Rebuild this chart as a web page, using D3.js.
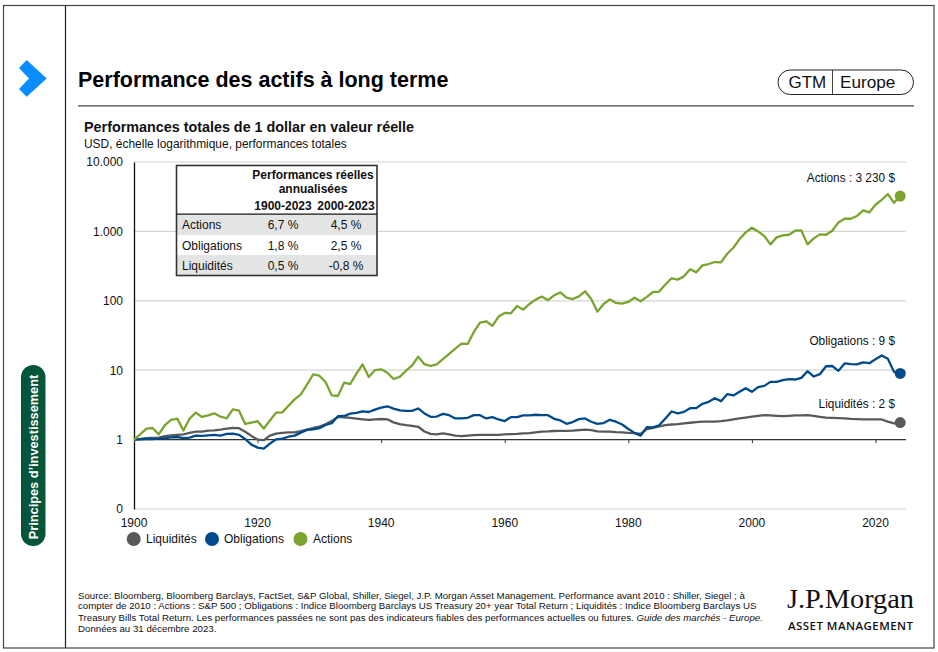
<!DOCTYPE html>
<html lang="fr">
<head>
<meta charset="utf-8">
<title>Performance des actifs à long terme</title>
<script src="https://cdn.jsdelivr.net/npm/d3@7"></script>
<style>
  html, body { margin: 0; padding: 0; background: #fff; }
  svg { display: block; }
  text { font-family: "Liberation Sans", Arial, sans-serif; fill: #111; }
</style>
</head>
<body>
<svg id="chart" width="938" height="652"></svg>
<script>
// Growth of one dollar in real terms, one value per year from 1900 to 2024 (end of 2023).
const startYear = 1900;
const actions = [
  1.00,1.19,1.44,1.47,1.19,1.61,1.92,2.01,1.35,2.01,
  2.45,2.12,2.24,2.39,2.14,2.03,2.73,2.61,1.68,1.76,
  1.84,1.44,1.88,2.45,2.47,3.08,3.80,4.49,6.19,8.71,
  8.33,6.76,4.34,4.25,6.61,6.32,8.90,12.1,7.98,10.05,
  10.3,9.20,7.46,8.02,9.78,11.7,15.7,12.2,11.5,12.1,
  14.4,17.2,20.5,24.2,23.9,35.6,48.5,50.7,43.5,59.2,
  66.8,66.1,84.3,74.6,90.0,104,115,102,120,132,
  111,106,116,137,106,69.8,90.0,105,93.1,91.0,
  96.2,111,98.4,114,134,136,172,211,202,225,
  284,257,324,339,362,358,477,582,776,968,
  1130,1000,857,650,820,875,895,1023,1033,650,
  793,906,895,1023,1347,1521,1521,1663,2004,1875,
  2420,2856,3443,2587,3230
];
const obligations = [
  1.00,1.01,1.02,1.02,1.03,1.05,1.08,1.09,1.05,1.07,
  1.14,1.13,1.15,1.17,1.14,1.21,1.22,1.17,1.02,0.847,
  0.767,0.742,0.876,1.01,1.03,1.10,1.14,1.26,1.38,1.41,
  1.46,1.63,1.72,2.17,2.19,2.37,2.42,2.56,2.50,2.70,
  2.89,3.02,2.79,2.63,2.60,2.60,2.81,2.38,2.13,2.15,
  2.35,2.25,2.02,2.02,2.06,2.25,2.25,2.02,2.11,1.95,
  1.85,2.11,2.11,2.23,2.23,2.28,2.25,2.25,1.99,1.89,
  1.69,1.79,1.97,2.02,1.81,1.69,1.73,1.93,1.81,1.65,
  1.42,1.25,1.14,1.51,1.50,1.61,2.02,2.54,2.38,2.51,
  2.84,2.84,3.28,3.50,3.95,3.58,4.51,4.32,4.88,5.51,
  4.88,5.69,5.95,6.79,6.79,7.18,7.42,7.34,7.76,9.67,
  8.11,8.76,11.4,11.5,9.78,12.5,12.2,12.1,13.0,12.6,
  14.4,16.3,14.6,9.46,9.00
];
const liquidites = [
  1.00,1.02,1.05,1.06,1.07,1.12,1.15,1.17,1.19,1.25,
  1.30,1.30,1.35,1.36,1.39,1.44,1.47,1.46,1.30,1.13,
  1.00,0.98,1.14,1.22,1.25,1.27,1.27,1.32,1.39,1.47,
  1.54,1.66,1.86,2.12,2.10,2.05,2.01,1.96,1.92,1.96,
  1.98,1.96,1.77,1.67,1.62,1.58,1.53,1.31,1.21,1.19,
  1.23,1.19,1.14,1.12,1.14,1.16,1.17,1.17,1.17,1.17,
  1.19,1.20,1.21,1.23,1.24,1.27,1.30,1.31,1.33,1.34,
  1.34,1.35,1.37,1.39,1.37,1.31,1.30,1.30,1.28,1.27,
  1.25,1.24,1.21,1.42,1.48,1.55,1.62,1.65,1.67,1.71,
  1.75,1.79,1.81,1.82,1.82,1.85,1.89,1.95,2.02,2.08,
  2.15,2.20,2.25,2.23,2.20,2.18,2.20,2.23,2.23,2.25,
  2.20,2.13,2.08,2.06,2.04,2.02,1.99,1.97,1.95,1.95,
  1.95,1.95,1.82,1.71,1.76
];

const yTickValues = [0.1, 1, 10, 100, 1000, 10000];
const yTickLabels = ["0", "1", "10", "100", "1.000", "10.000"];
const xTickValues = [1900, 1920, 1940, 1960, 1980, 2000, 2020];

const tableHeader = ["1900-2023", "2000-2023"];
const tableNames = ["Actions", "Obligations", "Liquidités"];
const tableFirst = ["6,7 %", "1,8 %", "0,5 %"];
const tableSecond = ["4,5 %", "2,5 %", "-0,8 %"];

const footnotes = [
  "Source: Bloomberg, Bloomberg Barclays, FactSet, S&P Global, Shiller, Siegel, J.P. Morgan Asset Management. Performance avant 2010 : Shiller, Siegel ; à",
  "compter de 2010 : Actions : S&P 500 ; Obligations : Indice Bloomberg Barclays US Treasury 20+ year Total Return ; Liquidités : Indice Bloomberg Barclays US",
  "Treasury Bills Total Return. Les performances passées ne sont pas des indicateurs fiables des performances actuelles ou futures. <i>Guide des marchés - Europe.</i>",
  "Données au 31 décembre 2023."
];

const colors = { cash: "#58595b", bonds: "#004a8c", stocks: "#7ba32f" };
const series = [
  { name: "Liquidités", values: liquidites, color: colors.cash },
  { name: "Obligations", values: obligations, color: colors.bonds },
  { name: "Actions", values: actions, color: colors.stocks }
];

const svg = d3.select("#chart");
const x = d3.scaleLinear().domain([1900, 2024]).range([134, 900.2]);
const y = d3.scaleLog().domain([0.1, 10000]).range([509, 162]);
const plotRight = 906;

// Page frame, side rail and header furniture
svg.append("rect").attr("x", 3.5).attr("y", 5.5).attr("width", 930.5).attr("height", 642.5)
  .attr("fill", "none").attr("stroke", "#444").attr("stroke-width", 1.2);
svg.append("line").attr("x1", 65.5).attr("x2", 65.5).attr("y1", 5.5).attr("y2", 648)
  .attr("stroke", "#222").attr("stroke-width", 1.2);
const chevron = [[26.7, 60], [46.7, 78.4], [26.7, 96.8], [19, 89], [29, 78.4], [19, 68]];
svg.append("path").attr("d", d3.line()(chevron) + "Z").attr("fill", "#0a8dff");
svg.append("rect").attr("x", 21).attr("y", 365).attr("width", 24.5).attr("height", 181).attr("rx", 12.25)
  .attr("fill", "#04553a");
svg.append("text").attr("transform", "translate(37.5,457) rotate(-90)").attr("text-anchor", "middle")
  .attr("font-size", 12.75).attr("font-weight", 700).style("fill", "#fff").text("Principes d’investissement");

svg.append("text").attr("x", 78).attr("y", 87).attr("font-size", 21.5).attr("font-weight", 700).style("fill", "#000")
  .text("Performance des actifs à long terme");
svg.append("line").attr("x1", 78).attr("x2", 914).attr("y1", 105.8).attr("y2", 105.8)
  .attr("stroke", "#444").attr("stroke-width", 1.2);
svg.append("rect").attr("x", 778).attr("y", 70).attr("width", 135.5).attr("height", 24.5).attr("rx", 12.25)
  .attr("fill", "none").attr("stroke", "#222").attr("stroke-width", 1);
svg.append("line").attr("x1", 832.5).attr("x2", 832.5).attr("y1", 70).attr("y2", 94.5).attr("stroke", "#444");
svg.append("text").attr("x", 788.5).attr("y", 88).attr("font-size", 17).text("GTM");
svg.append("text").attr("x", 840).attr("y", 88).attr("font-size", 17.2).text("Europe");

svg.append("text").attr("x", 84).attr("y", 132).attr("font-size", 14.35).attr("font-weight", 700)
  .text("Performances totales de 1 dollar en valeur réelle");
svg.append("text").attr("x", 84).attr("y", 148).attr("font-size", 11.95)
  .text("USD, échelle logarithmique, performances totales");

// Horizontal gridlines on the log scale
svg.append("g").selectAll("line").data(yTickValues.filter(d => d !== 1)).join("line")
  .attr("x1", 134).attr("x2", plotRight)
  .attr("y1", d => y(d)).attr("y2", d => y(d))
  .attr("stroke", "#d4d4d4").attr("stroke-width", 1.2);

// Value axis on the left
const yAxis = d3.axisLeft(y).tickValues(yTickValues).tickSize(0).tickPadding(11)
  .tickFormat(d => yTickLabels[yTickValues.indexOf(d)]);
const yG = svg.append("g").attr("transform", "translate(134,0)").call(yAxis);
yG.select(".domain").attr("stroke", "#111").attr("stroke-width", 1.3);
yG.selectAll("text").attr("font-size", 12).attr("font-family", "Liberation Sans").style("fill", "#111");

// Time axis sits on the 1 dollar level, its labels under the plot
const xAxis = d3.axisBottom(x).tickValues(xTickValues).tickSize(3.5).tickFormat("");
const xG = svg.append("g").attr("transform", `translate(0,${y(1)})`).call(xAxis);
xG.select(".domain").attr("d", `M134,0H${plotRight}`).attr("stroke", "#333").attr("stroke-width", 1.4);
xG.selectAll("line").attr("stroke", "#333");
svg.append("g").selectAll("text").data(xTickValues).join("text")
  .attr("x", d => x(d)).attr("y", 527).attr("text-anchor", "middle").attr("font-size", 12)
  .text(d => d);

// One line per asset class, ending in a dot at the final value
const line = d3.line().x((d, i) => x(startYear + i)).y(d => y(d));
svg.append("g").selectAll("path").data(series).join("path")
  .attr("d", d => line(d.values))
  .attr("fill", "none").attr("stroke", d => d.color).attr("stroke-width", 2.3).attr("stroke-linejoin", "round");
svg.append("g").selectAll("circle").data(series).join("circle")
  .attr("cx", x(2024)).attr("cy", d => y(d.values[d.values.length - 1])).attr("r", 5.5)
  .attr("fill", d => d.color);

// End labels carry the last value of each series
const money = v => d3.format(",.0f")(v).replace(/,/g, " ");
const labelPos = { "Actions": 182, "Obligations": 345, "Liquidités": 408 };
svg.append("g").selectAll("text").data(series).join("text")
  .attr("x", 895).attr("y", d => labelPos[d.name]).attr("text-anchor", "end").attr("font-size", 11.85)
  .text(d => `${d.name} : ${money(d.values[d.values.length - 1])} $`);

// Legend
const legendX = [[133.7, 146], [212, 224], [300.5, 313]];
const legend = svg.append("g").selectAll("g").data(series).join("g");
legend.append("circle").attr("cx", (d, i) => legendX[i][0]).attr("cy", 539).attr("r", 7).attr("fill", d => d.color);
legend.append("text").attr("x", (d, i) => legendX[i][1]).attr("y", 543).attr("font-size", 12).text(d => d.name);

// Annualised performance table
const table = svg.append("g");
const rowTop = [215, 235, 255];
const rowBase = [229, 250, 270];
const colCentre = [283, 346];
table.append("rect").attr("x", 176.5).attr("y", 165.5).attr("width", 200.5).attr("height", 110).attr("fill", "#fff");
table.selectAll(".band").data([0, 2]).join("rect").attr("class", "band")
  .attr("x", 177).attr("width", 200).attr("y", i => rowTop[i]).attr("height", 20).attr("fill", "#e3e5e4");
table.append("rect").attr("x", 176.5).attr("y", 165.5).attr("width", 200.5).attr("height", 110)
  .attr("fill", "none").attr("stroke", "#333").attr("stroke-width", 1.6);
table.append("line").attr("x1", 176.5).attr("x2", 377).attr("y1", 214.2).attr("y2", 214.2)
  .attr("stroke", "#111").attr("stroke-width", 1.2);
[["Performances réelles", 179], ["annualisées", 193]].forEach(([t, yy]) => {
  table.append("text").attr("x", 313).attr("y", yy).attr("text-anchor", "middle")
    .attr("font-size", 12).attr("font-weight", 700).text(t);
});
tableHeader.forEach((t, i) => {
  table.append("text").attr("x", colCentre[i]).attr("y", 210).attr("text-anchor", "middle")
    .attr("font-size", 12).attr("font-weight", 700).text(t);
});
tableNames.forEach((t, i) => {
  table.append("text").attr("x", 182).attr("y", rowBase[i]).attr("font-size", 12).text(t);
  table.append("text").attr("x", colCentre[0]).attr("y", rowBase[i]).attr("text-anchor", "middle").attr("font-size", 12).text(tableFirst[i]);
  table.append("text").attr("x", colCentre[1]).attr("y", rowBase[i]).attr("text-anchor", "middle").attr("font-size", 12).text(tableSecond[i]);
});

// Footnote block
const noteBase = [599, 609, 620.5, 631.5];
footnotes.forEach((t, i) => {
  const el = svg.append("text").attr("x", 78).attr("y", noteBase[i]).attr("font-size", 9.7);
  const parts = t.split(/<i>|<\/i>/);
  parts.forEach((p, j) => {
    if (p) el.append("tspan").attr("font-style", j % 2 ? "italic" : "normal").text(p);
  });
});

// Company signature
svg.append("text").attr("x", 787).attr("y", 608).attr("font-size", 26.5)
  .style("font-family", "'Liberation Serif', serif").attr("textLength", 127).attr("lengthAdjust", "spacingAndGlyphs").text("J.P.Morgan");
svg.append("text").attr("x", 788).attr("y", 630).attr("font-size", 11.5).attr("font-weight", 600)
  .style("font-family", "'Open Sans', sans-serif").attr("textLength", 125).attr("lengthAdjust", "spacing").text("ASSET MANAGEMENT");
</script>
</body>
</html>
